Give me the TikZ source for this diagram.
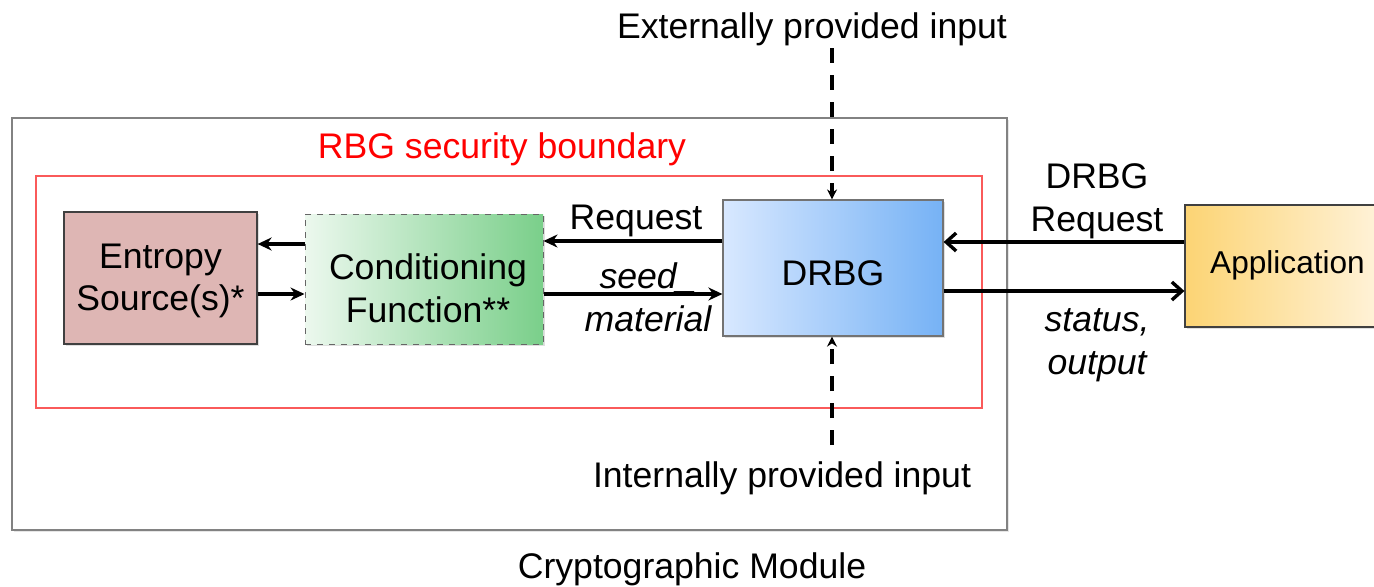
\documentclass[tikz,border=0pt]{standalone}
\usepackage{fontspec}
\setmainfont{Liberation Sans}
\usetikzlibrary{arrows.meta,shadows,calc}

\definecolor{entfill}{RGB}{222,182,180}
\definecolor{condL}{RGB}{236,248,238}
\definecolor{condR}{RGB}{122,207,138}
\definecolor{drbgL}{RGB}{216,232,255}
\definecolor{drbgR}{RGB}{118,178,245}
\definecolor{appL}{RGB}{252,212,116}
\definecolor{appR}{RGB}{255,244,222}
\definecolor{modgray}{RGB}{130,130,130}
\definecolor{bndred}{RGB}{250,90,90}
\definecolor{txtred}{RGB}{255,0,0}

\tikzset{
  lbl/.style={font=\fontsize{17.8}{21.3}\selectfont, align=center, inner sep=0pt},
  ilbl/.style={lbl, font=\fontsize{17.8}{21.3}\selectfont\itshape},
  blk/.style={draw=black!75, line width=0.6pt, inner sep=0pt,
    drop shadow={shadow xshift=1pt, shadow yshift=-1pt, opacity=0.25}},
  arr/.style={line width=1.7pt, -{Stealth[length=7pt,width=6.5pt]}},
  openarr/.style={line width=1.7pt, -{Straight Barb[length=5pt,width=9pt,line width=1.7pt]}},
  ioarr/.style={line width=2.4pt, dash pattern=on 7.5pt off 6pt, -{Stealth[length=5pt,width=5pt]}},
}

\begin{document}
\begin{tikzpicture}[x=0.5pt, y=-0.5pt]
\useasboundingbox (0,0) rectangle (1374,586);

% module and RBG boundary
\draw[modgray, line width=0.8pt, drop shadow={shadow xshift=1pt, shadow yshift=-1pt, opacity=0.2}, fill=white]
  (12,118) rectangle (1007,530);
\draw[bndred, line width=0.6pt] (36,176) rectangle (982,408);
\node[lbl, text=txtred] (rbg) at (502,149) {RBG security boundary};
\node[lbl] (cm) at (692,569) {Cryptographic Module};

% components (boxes, then their captions)
\node[blk, fill=entfill, minimum width=96.5pt, minimum height=66pt] (ent) at (160.5,278) {};
\node[blk, draw=black!60, dashed, line width=0.5pt, left color=condL, right color=condR,
  minimum width=119pt, minimum height=65pt] (cond) at (424,279) {};
\node[blk, draw=black!55, left color=drbgL, right color=drbgR,
  minimum width=110pt, minimum height=68pt] (drbg) at (833,268) {};
\node[blk, left color=appL, right color=appR,
  minimum width=102.5pt, minimum height=61pt] (app) at (1287.5,266) {};

\node[lbl] (enttxt) at ($(ent.center)+(0,3)$) {Entropy\\Source(s)*};
\node[lbl] (condtxt) at ($(cond.center)+(4,9)$) {Conditioning\\Function**};
\node[lbl] (drbgtxt) at ($(drbg.center)+(0,5)$) {DRBG};
\node[lbl, font=\fontsize{15.8}{19}\selectfont] (apptxt) at ($(app.center)+(0,-1)$) {Application};

% entropy source <-> conditioning function
\draw[arr] (cond.west |- 0,244) -- (ent.east |- 0,244);
\draw[arr] (ent.east |- 0,294) -- (cond.west |- 0,294);

% conditioning function <-> DRBG
\draw[arr] (drbg.west |- 0,241) -- (cond.east |- 0,241);
\node[lbl] (req) at (636,221) {Request};
\draw[arr] (cond.east |- 0,294) -- (drbg.west |- 0,294);
\node[ilbl] (seed) at (648,297) {seed\_\\material};

% DRBG <-> application
\draw[openarr] (app.west |- 0,242) -- (drbg.east |- 0,242);
\node[lbl] (dreq) at (1097,201) {DRBG\\Request};
\draw[openarr] (drbg.east |- 0,291) -- (app.west |- 0,291);
\node[ilbl] (stat) at (1097,345) {status,\\output};

% external and internal inputs
\node[lbl] (ext) at (812,29) {Externally provided input};
\node[lbl] (int) at (782,478) {Internally provided input};
\coordinate (extend) at (832,48);
\coordinate (intend) at (832,445);
\draw[ioarr] (extend) -- (drbg.north -| extend);
\draw[ioarr] (intend) -- (drbg.south -| intend);
\end{tikzpicture}
\end{document}
